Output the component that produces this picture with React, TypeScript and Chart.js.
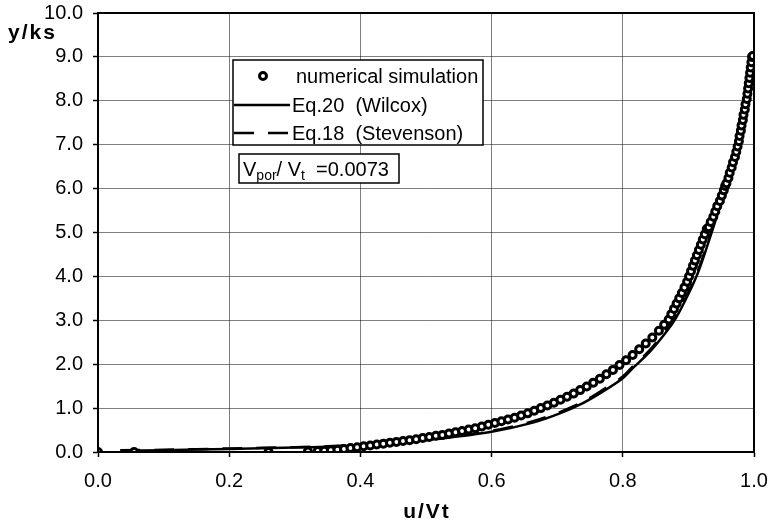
import React, { useEffect, useRef } from "react";
import { Chart, registerables } from "chart.js";

Chart.register(...registerables);

// ---- data ----
const simX = [
  0, 0.055, 0.26, 0.32, 0.335, 0.345, 0.355, 0.365, 0.375, 0.385, 0.395, 0.405, 0.415, 0.425, 0.435,
  0.445, 0.455, 0.465, 0.475, 0.485, 0.495, 0.505, 0.515, 0.525, 0.535, 0.545, 0.555, 0.565, 0.575,
  0.585, 0.595, 0.605, 0.615, 0.625, 0.635, 0.645, 0.655, 0.665, 0.675, 0.685, 0.695, 0.705, 0.715,
  0.725, 0.735, 0.745, 0.755, 0.765, 0.775, 0.785, 0.795, 0.805, 0.815, 0.825, 0.835, 0.845, 0.855,
  0.863, 0.87, 0.874, 0.878, 0.882, 0.886, 0.89, 0.894, 0.898, 0.901, 0.904, 0.907, 0.91, 0.913,
  0.916, 0.919, 0.922, 0.925, 0.928, 0.931, 0.934, 0.938, 0.941, 0.944, 0.948, 0.951, 0.954, 0.956,
  0.958, 0.961, 0.963, 0.966, 0.968, 0.971, 0.973, 0.975, 0.977, 0.978, 0.98, 0.981, 0.983, 0.984,
  0.986, 0.987, 0.989, 0.99, 0.991, 0.992, 0.993, 0.994, 0.995, 0.996, 0.997, 0.998,
];
const simY = [
  0, 0, 0, 0.01, 0.02, 0.03, 0.04, 0.05, 0.07, 0.09, 0.11, 0.13, 0.15, 0.17, 0.19,
  0.21, 0.23, 0.25, 0.27, 0.29, 0.32, 0.34, 0.37, 0.39, 0.42, 0.45, 0.48, 0.51, 0.54,
  0.58, 0.62, 0.66, 0.7, 0.74, 0.78, 0.83, 0.88, 0.94, 1.0, 1.06, 1.12, 1.19, 1.26,
  1.33, 1.41, 1.49, 1.58, 1.67, 1.77, 1.87, 1.98, 2.09, 2.21, 2.34, 2.47, 2.61, 2.76,
  2.9, 3.02, 3.14, 3.26, 3.38, 3.5, 3.62, 3.75, 3.88, 4.0, 4.12, 4.24, 4.36, 4.48,
  4.6, 4.72, 4.84, 4.96, 5.08, 5.12, 5.24, 5.36, 5.48, 5.6, 5.72, 5.84, 5.96, 6.06,
  6.12, 6.24, 6.36, 6.48, 6.6, 6.72, 6.84, 6.96, 7.08, 7.2, 7.32, 7.44, 7.56, 7.68,
  7.8, 7.92, 8.04, 8.16, 8.28, 8.4, 8.52, 8.64, 8.76, 8.88, 9.0, 9.02,
];

const wilcoxX = [
  0.034, 0.1, 0.2, 0.3, 0.35, 0.4, 0.45, 0.5, 0.537, 0.6, 0.663, 0.704, 0.74, 0.77, 0.8, 0.816,
  0.841, 0.867, 0.882, 0.9, 0.915, 0.93, 0.945, 0.96, 0.972, 0.985, 0.992, 0.998,
];
const wilcoxY = [
  0.03, 0.04, 0.07, 0.1, 0.12, 0.15, 0.2, 0.27, 0.33, 0.46, 0.67, 0.88, 1.12, 1.38, 1.68, 1.92,
  2.28, 2.75, 3.08, 3.6, 4.1, 4.75, 5.45, 6.25, 7.0, 8.0, 8.6, 9.05,
];

const stevensonX = [
  0.034, 0.1, 0.2, 0.3, 0.35, 0.4, 0.45, 0.5, 0.537, 0.6, 0.663, 0.704, 0.74, 0.77, 0.8, 0.816,
  0.841, 0.867, 0.882, 0.9, 0.915, 0.93, 0.945, 0.96, 0.972, 0.985, 0.992, 0.998,
];
const stevensonY = [
  0.04, 0.05, 0.08, 0.11, 0.13, 0.17, 0.22, 0.29, 0.35, 0.48, 0.7, 0.91, 1.15, 1.42, 1.72, 1.96,
  2.32, 2.8, 3.12, 3.65, 4.15, 4.8, 5.5, 6.3, 7.05, 8.05, 8.65, 9.05,
];

const seriesNames = ["numerical simulation", "Eq.20  (Wilcox)", "Eq.18  (Stevenson)"];
const xTickLabels = ["0.0", "0.2", "0.4", "0.6", "0.8", "1.0"];
const yTickLabels = ["0.0", "1.0", "2.0", "3.0", "4.0", "5.0", "6.0", "7.0", "8.0", "9.0", "10.0"];
const xTitle = "u/Vt";
const yTitle = "y/ks";
const ratioValue = "=0.0073";

const FONT = "'Liberation Sans', Arial, Helvetica, sans-serif";

const toPoints = (xs: number[], ys: number[]) => xs.map((x, i) => ({ x, y: ys[i] }));

const overlayPlugin = {
  id: "overlay",
  afterDraw(chart: any) {
    const { ctx, chartArea: a } = chart;
    ctx.save();
    // plot frame
    ctx.strokeStyle = "#000";
    ctx.lineWidth = 2;
    ctx.setLineDash([]);
    ctx.strokeRect(a.left, a.top, a.right - a.left, a.bottom - a.top);

    // axis titles
    ctx.fillStyle = "#000";
    ctx.font = `bold 21px ${FONT}`;
    (ctx as any).letterSpacing = "2px";
    ctx.textBaseline = "middle";
    ctx.textAlign = "center";
    ctx.fillText(xTitle, (a.left + a.right) / 2 + 1, 512);
    ctx.textAlign = "left";
    ctx.textBaseline = "alphabetic";
    ctx.fillText(yTitle, 8, 39);
    (ctx as any).letterSpacing = "0px";

    // legend box
    const ds = chart.data.datasets;
    ctx.fillStyle = "#fff";
    ctx.fillRect(233, 60, 250, 85);
    ctx.lineWidth = 1.5;
    ctx.strokeStyle = "#000";
    ctx.strokeRect(233, 60, 250, 85);
    const rows = [76, 105, 133];
    ctx.font = `20px ${FONT}`;
    ctx.textBaseline = "middle";
    ctx.textAlign = "left";
    // marker row
    ctx.beginPath();
    ctx.arc(263, rows[0], 3.5, 0, Math.PI * 2);
    ctx.fillStyle = "#fff";
    ctx.fill();
    ctx.lineWidth = 3;
    ctx.strokeStyle = "#000";
    ctx.stroke();
    ctx.fillStyle = "#000";
    ctx.fillText(seriesNames[0], 296, rows[0] + 1);
    // line rows
    for (let i = 1; i < 3; i++) {
      const d = ds[i];
      ctx.beginPath();
      ctx.setLineDash(d.borderDash || []);
      ctx.lineWidth = d.borderWidth;
      ctx.strokeStyle = d.borderColor;
      ctx.moveTo(234, rows[i]);
      ctx.lineTo(290, rows[i]);
      ctx.stroke();
      ctx.setLineDash([]);
      ctx.fillText(seriesNames[i], 292, rows[i] + 1);
    }

    // value box
    ctx.fillStyle = "#fff";
    ctx.fillRect(239, 154, 160, 29);
    ctx.lineWidth = 1.5;
    ctx.strokeStyle = "#000";
    ctx.strokeRect(239, 154, 160, 29);
    ctx.fillStyle = "#000";
    ctx.textBaseline = "alphabetic";
    let x = 243;
    const base = 176;
    const big = `20px ${FONT}`;
    const small = `14px ${FONT}`;
    const put = (t: string, f: string, dy: number) => {
      ctx.font = f;
      ctx.fillText(t, x, base + dy);
      x += ctx.measureText(t).width;
    };
    put("V", big, 0);
    put("por", small, 4);
    put("/ V", big, 0);
    put("t", small, 4);
    put("  " + ratioValue, big, 0);

    ctx.restore();
  },
};

const zeroPadding = (s: any) => {
  s.paddingTop = 0;
  s.paddingBottom = 0;
  s.paddingLeft = 0;
  s.paddingRight = 0;
};

export default function App() {
  const ref = useRef<HTMLCanvasElement | null>(null);

  useEffect(() => {
    document.body.style.margin = "0";
    const canvas = ref.current!;
    const gridStyle = {
      color: "rgba(0,0,0,0.5)",
      lineWidth: 1,
      borderDash: [5, 3],
      drawTicks: true,
      tickLength: 5,
      tickColor: "#000",
      tickWidth: 1.5,
      tickBorderDash: [],
    };
    const chart = new Chart(canvas, {
      type: "scatter",
      data: {
        datasets: [
          {
            label: seriesNames[0],
            data: toPoints(simX, simY),
            showLine: false,
            pointStyle: "circle",
            pointRadius: 3.5,
            pointBorderWidth: 3,
            pointBackgroundColor: "#fff",
            pointBorderColor: "#000",
            order: 0,
          },
          {
            label: seriesNames[1],
            data: toPoints(wilcoxX, wilcoxY),
            showLine: true,
            pointRadius: 0,
            borderColor: "#000",
            borderWidth: 2.5,
            tension: 0.3,
            order: 2,
          },
          {
            label: seriesNames[2],
            data: toPoints(stevensonX, stevensonY),
            showLine: true,
            pointRadius: 0,
            borderColor: "#000",
            borderWidth: 2.5,
            borderDash: [20, 14],
            tension: 0.3,
            order: 1,
          },
        ],
      },
      options: {
        responsive: false,
        animation: false,
        devicePixelRatio: 1,
        layout: { padding: { top: 13, right: 17, left: 0, bottom: 0 } },
        plugins: { legend: { display: false }, tooltip: { enabled: false }, title: { display: false } },
        scales: {
          x: {
            type: "linear",
            min: 0,
            max: 1,
            afterFit: (s: any) => {
              s.height = 75;
              zeroPadding(s);
            },
            afterBuildTicks: (s: any) => {
              s.ticks = xTickLabels.map((l) => ({ value: parseFloat(l) }));
            },
            ticks: {
              stepSize: 0.2,
              padding: 12,
              color: "#000",
              font: { family: FONT, size: 20 },
              callback: (_v: any, i: number) => xTickLabels[i],
              maxRotation: 0,
            },
            grid: gridStyle,
            border: { display: true, color: "#000", width: 2 },
          },
          y: {
            type: "linear",
            min: 0,
            max: 10,
            afterFit: (s: any) => {
              s.width = 98;
              zeroPadding(s);
            },
            afterBuildTicks: (s: any) => {
              s.ticks = yTickLabels.map((l) => ({ value: parseFloat(l) }));
            },
            ticks: {
              stepSize: 1,
              padding: 10,
              color: "#000",
              font: { family: FONT, size: 20 },
              callback: (_v: any, i: number) => yTickLabels[i],
            },
            grid: gridStyle,
            border: { display: true, color: "#000", width: 2 },
          },
        },
      },
      plugins: [overlayPlugin],
    } as any);
    return () => chart.destroy();
  }, []);

  return (
    <div style={{ width: 771, height: 527, background: "#fff" }}>
      <canvas ref={ref} width={771} height={527} style={{ display: "block" }} />
    </div>
  );
}
